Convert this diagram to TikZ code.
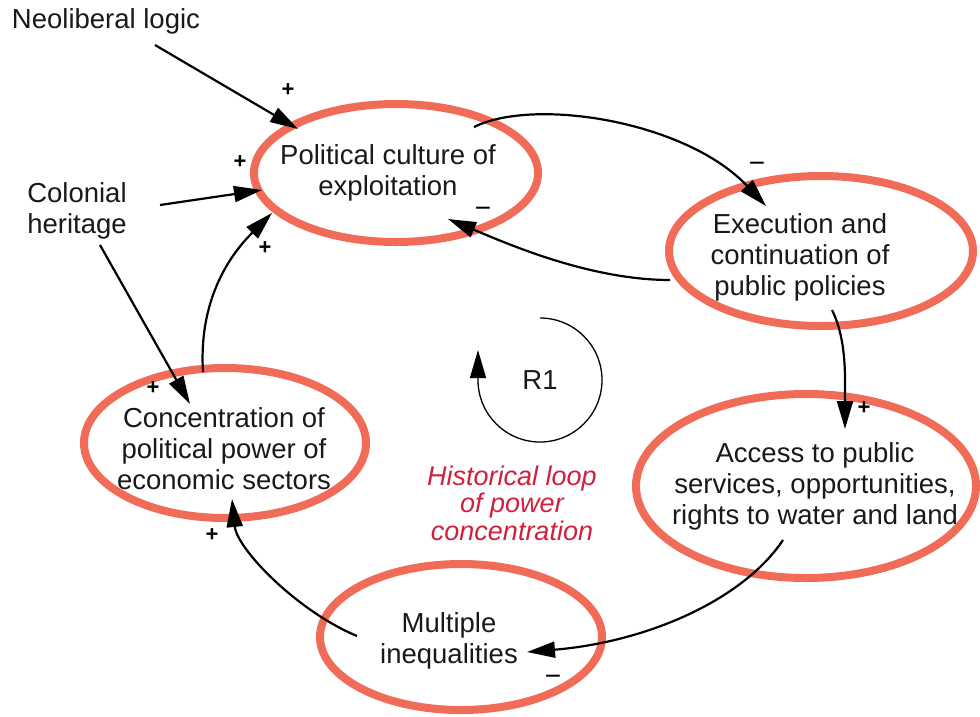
\documentclass[tikz,border=0pt]{standalone}
\usepackage{fontspec}
\setmainfont{Liberation Sans}
\usetikzlibrary{arrows.meta}
\definecolor{ringc}{RGB}{240,108,88}
\definecolor{loopred}{RGB}{208,32,62}
\begin{document}
\begin{tikzpicture}[x=1pt,y=-1pt,
  lbl/.style={font=\fontsize{27.5}{31}\selectfont, align=center, inner sep=0pt, text=black!90},
  ringe/.style={draw=ringc, line width=8pt},
  conn/.style={line width=2.2pt, -{Triangle[length=28pt,width=16pt]}},
  possign/.style={font=\fontsize{22}{22}\selectfont\bfseries, inner sep=0pt},
  negsign/.style={font=\fontsize{28}{28}\selectfont, inner sep=0pt}]
\useasboundingbox (0,0) rectangle (980,716);

% ellipses
\draw[ringe] (396,173) ellipse [x radius=142pt, y radius=69pt];
\draw[ringe] (821,251) ellipse [x radius=152pt, y radius=75pt];
\draw[ringe] (806,486) ellipse [x radius=170pt, y radius=92pt];
\draw[ringe] (461,637) ellipse [x radius=141pt, y radius=73pt];
\draw[ringe] (225,443) ellipse [x radius=141pt, y radius=75pt];

% labels
\node[lbl] (neo) at (106,21) {Neoliberal logic};
\node[lbl, align=left] (col) at (77,211) {Colonial\\heritage};
\node[lbl] (pol) at (388,173) {Political culture of\\exploitation};
\node[lbl] (exe) at (800,257) {Execution and\\continuation of\\public policies};
\node[lbl] (acc) at (815,486) {Access to public\\services, opportunities,\\rights to water and land};
\node[lbl] (ine) at (449,641) {Multiple\\inequalities};
\node[lbl] (con) at (224,449) {Concentration of\\political power of\\economic sectors};
\node[lbl] (r1) at (540,380) {R1};
\node[lbl, font=\fontsize{27}{27.5}\selectfont\itshape, text=loopred] (hist) at (512,503) {Historical loop\\of power\\concentration};

% connector end points
\coordinate (neoS) at (155,45);   \coordinate (polA) at (298,129);
\coordinate (colS) at (160,205);  \coordinate (polB) at (262,190);
\coordinate (colT) at (100,245);  \coordinate (conA) at (190,404);
\coordinate (conS) at (203,372);  \coordinate (polC) at (272,213);
\coordinate (polS) at (474,127);  \coordinate (exeA) at (766,206);
\coordinate (exeS) at (670,280);  \coordinate (polD) at (448,219);
\coordinate (exeT) at (832,310);  \coordinate (accA) at (845,429);
\coordinate (accS) at (783,540);  \coordinate (ineA) at (527,652);
\coordinate (ineS) at (357,636);  \coordinate (conB) at (232,499);

\draw[conn] (neoS) -- (polA);
\draw[conn] (colS) -- (polB);
\draw[conn] (colT) -- (conA);
\draw[conn] (conS) .. controls +(-5,-80) and +(-35,35) .. (polC);
\draw[conn] (polS) .. controls +(60,-30) and +(-80,-85) .. (exeA);
\draw[conn] (exeS) .. controls +(-80,0) and +(60,25) .. (polD);
\draw[conn] (exeT) .. controls +(15,30) and +(0,-50) .. (accA);
\draw[conn] (accS) .. controls +(-40,60) and +(120,-10) .. (ineA);
\draw[conn] (ineS) .. controls +(-60,-25) and +(5,50) .. (conB);

% R1 loop
\draw[line width=1.3pt, -{Triangle[length=28pt,width=16pt]}] (r1.center) ++(0,-62) arc[start angle=90, end angle=-180, radius=62pt] -- ++(0,-30);

% polarity signs
\node[possign] (p1) at (288,90) {+};
\node[possign] (p2) at (240,162) {+};
\node[possign] (p3) at (265,248) {+};
\node[possign] (p4) at (153,388) {+};
\node[negsign] (m1) at (757,167) {−};
\node[negsign] (m2) at (483,212) {−};
\node[possign] (p5) at (864,408) {+};
\node[negsign] (m3) at (553,680) {−};
\node[possign] (p6) at (212,535) {+};
\end{tikzpicture}
\end{document}
